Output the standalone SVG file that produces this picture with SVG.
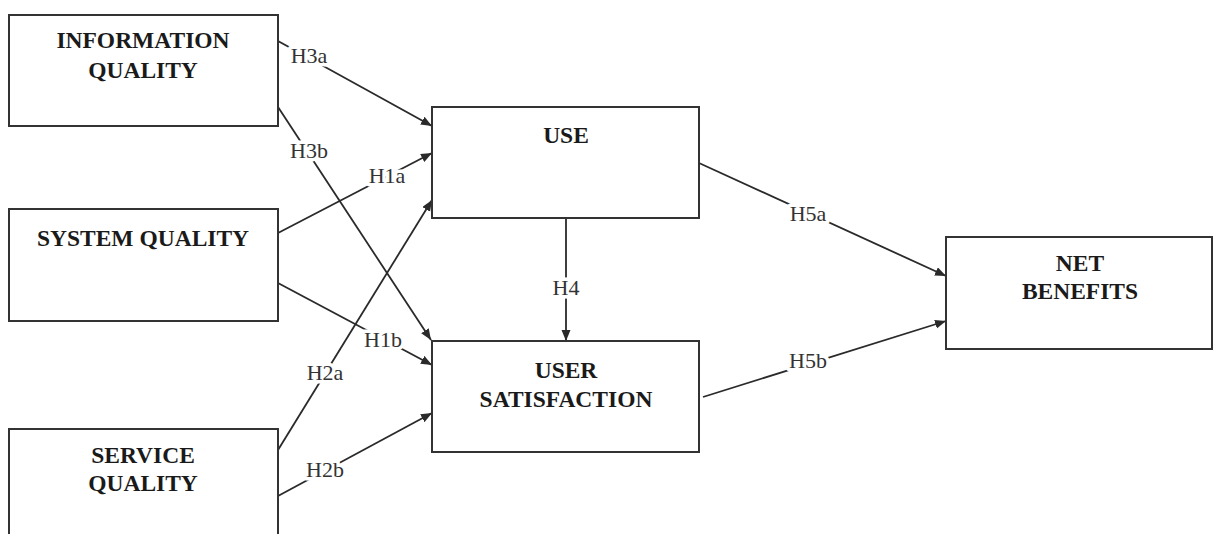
<svg xmlns="http://www.w3.org/2000/svg" width="1217" height="534" viewBox="0 0 1217 534">
<style>
.box{fill:#fff;stroke:#333;stroke-width:2}
.t{font-family:"Liberation Serif","Times New Roman",serif;font-weight:bold;font-size:23.5px;fill:#1a1a1a;text-anchor:middle}
.c{stroke:#2a2a2a;stroke-width:1.8;fill:none;marker-end:url(#ah)}
.l{font-family:"Liberation Serif","Times New Roman",serif;font-size:22px;fill:#333;text-anchor:middle;stroke:#fff;stroke-width:7;paint-order:stroke;stroke-linejoin:round}
</style>
<defs>
<marker id="ah" markerUnits="userSpaceOnUse" markerWidth="12" markerHeight="10" refX="11" refY="4.5" orient="auto">
<path d="M0,0 L11,4.5 L0,9 z" fill="#2a2a2a"/>
</marker>
</defs>
<rect width="1217" height="534" fill="#fff"/>
<g id="connectors">
<line class="c" x1="278" y1="41" x2="432" y2="126"/>
<line class="c" x1="278" y1="107" x2="431" y2="340"/>
<line class="c" x1="278" y1="233" x2="432" y2="153"/>
<line class="c" x1="278" y1="283" x2="432" y2="365"/>
<line class="c" x1="278" y1="450" x2="432" y2="200"/>
<line class="c" x1="278" y1="496" x2="432" y2="413"/>
<line class="c" x1="566" y1="218" x2="566" y2="341"/>
<line class="c" x1="699" y1="163" x2="946" y2="276"/>
<line class="c" x1="703" y1="397" x2="946" y2="321"/>
<text class="l" x="309" y="63">H3a</text>
<text class="l" x="309" y="158">H3b</text>
<text class="l" x="387" y="183">H1a</text>
<text class="l" x="383" y="347">H1b</text>
<text class="l" x="325" y="380">H2a</text>
<text class="l" x="325" y="477">H2b</text>
<text class="l" x="566" y="295">H4</text>
<text class="l" x="808" y="221">H5a</text>
<text class="l" x="808" y="368">H5b</text>
</g>
<g id="information-quality">
<rect class="box" x="9" y="15" width="269" height="111"/>
<text class="t" x="143" y="48">INFORMATION</text>
<text class="t" x="143" y="78">QUALITY</text>
</g>
<g id="system-quality">
<rect class="box" x="9" y="209" width="269" height="112"/>
<text class="t" x="143" y="246">SYSTEM QUALITY</text>
</g>
<g id="service-quality">
<rect class="box" x="9" y="429" width="269" height="120"/>
<text class="t" x="143" y="463">SERVICE</text>
<text class="t" x="143" y="491">QUALITY</text>
</g>
<g id="use">
<rect class="box" x="432" y="107" width="267" height="111"/>
<text class="t" x="566" y="143">USE</text>
</g>
<g id="user-satisfaction">
<rect class="box" x="432" y="341" width="267" height="111"/>
<text class="t" x="566" y="378">USER</text>
<text class="t" x="566" y="407">SATISFACTION</text>
</g>
<g id="net-benefits">
<rect class="box" x="946" y="237" width="266" height="112"/>
<text class="t" x="1080" y="271">NET</text>
<text class="t" x="1080" y="299">BENEFITS</text>
</g>
</svg>
